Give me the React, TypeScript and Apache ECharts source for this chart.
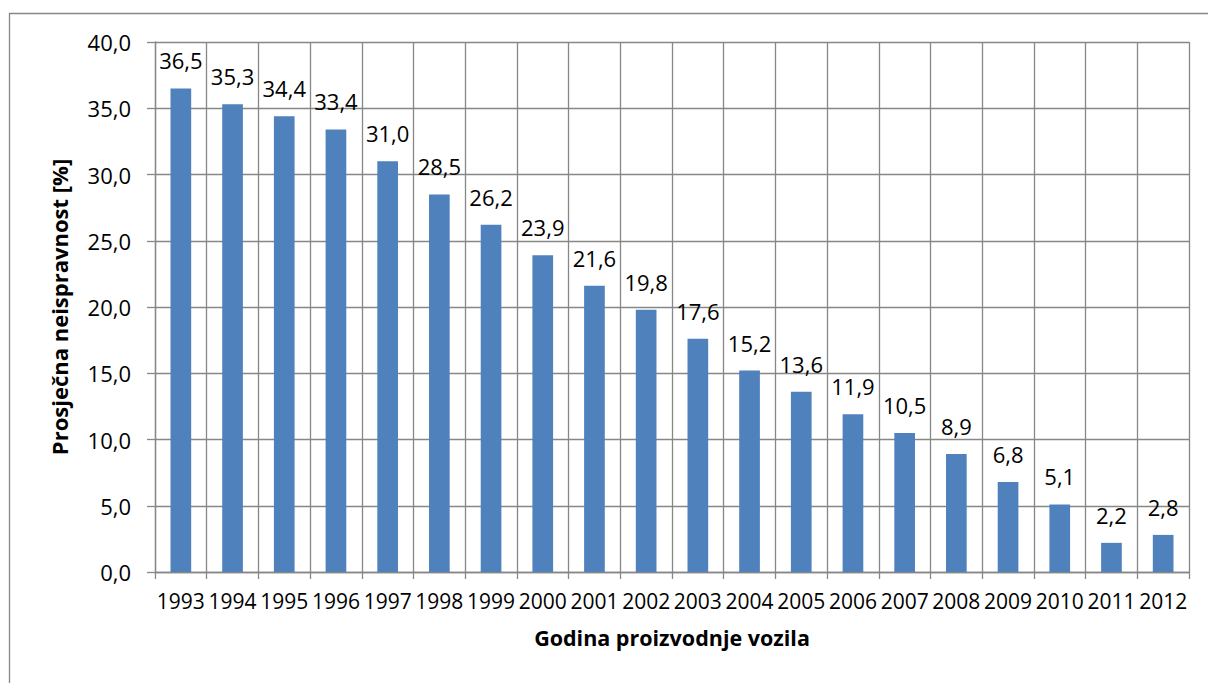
import React, { useEffect, useRef } from "react";
import * as echarts from "echarts";

const years: string[] = [
  "1993", "1994", "1995", "1996", "1997", "1998", "1999", "2000", "2001", "2002",
  "2003", "2004", "2005", "2006", "2007", "2008", "2009", "2010", "2011", "2012",
];
const values: number[] = [
  36.5, 35.3, 34.4, 33.4, 31.0, 28.5, 26.2, 23.9, 21.6, 19.8,
  17.6, 15.2, 13.6, 11.9, 10.5, 8.9, 6.8, 5.1, 2.2, 2.8,
];
const yTitle = "Prosječna neispravnost [%]";
const xTitle = "Godina proizvodnje vozila";

const FONT = "'Open Sans', sans-serif";
const GRID = "#878787";

export default function App() {
  const ref = useRef<HTMLDivElement>(null);
  useEffect(() => {
    document.body.style.margin = "0";
    if (!ref.current) return;
    const chart = echarts.init(ref.current, null, { renderer: "svg" });
    const fmt = (v: number) => v.toFixed(1).replace(".", ",");
    chart.setOption({
      animation: false,
      backgroundColor: "#ffffff",
      textStyle: { fontFamily: FONT },
      graphic: [
        {
          type: "rect",
          shape: { x: 9.5, y: 13.5, width: 1220, height: 700 },
          style: { fill: "none", stroke: GRID, lineWidth: 1.3 },
          silent: true,
        },
      ],
      grid: { left: 155, top: 42, right: 19, bottom: 111, containLabel: false },
      xAxis: {
        type: "category",
        data: years,
        boundaryGap: true,
        name: xTitle,
        nameLocation: "middle",
        nameGap: 54,
        nameTextStyle: { fontFamily: FONT, fontWeight: "bold", fontSize: 21.5, color: "#000" },
        axisLine: { show: true, lineStyle: { color: GRID, width: 1.3 } },
        axisTick: { show: true, interval: 0, length: 7, lineStyle: { color: GRID, width: 1.3 } },
        axisLabel: { interval: 0, margin: 18, fontSize: 21, color: "#000", fontFamily: FONT },
        splitLine: { show: true, interval: 0, lineStyle: { color: GRID, width: 1.3 } },
      },
      yAxis: {
        type: "value",
        min: 0,
        max: 40,
        interval: 5,
        name: yTitle,
        nameLocation: "middle",
        nameGap: 85,
        nameRotate: 90,
        nameTextStyle: { fontFamily: FONT, fontWeight: "bold", fontSize: 22, color: "#000" },
        axisLine: { show: true, lineStyle: { color: GRID, width: 1.3 } },
        axisTick: { show: true, length: 8, lineStyle: { color: GRID, width: 1.3 } },
        axisLabel: { margin: 24, fontSize: 22, color: "#000", fontFamily: FONT, formatter: fmt },
        splitLine: { show: true, lineStyle: { color: GRID, width: 1.3 } },
      },
      series: [
        {
          type: "bar",
          data: values,
          barWidth: "40%",
          itemStyle: { color: "#4F81BD" },
          label: {
            show: true,
            position: "top",
            distance: 17,
            fontSize: 22,
            color: "#000",
            fontFamily: FONT,
            formatter: (p: any) => fmt(p.value),
          },
        },
      ],
    });
    return () => chart.dispose();
  }, []);
  return <div ref={ref} style={{ width: 1208, height: 683 }} />;
}
